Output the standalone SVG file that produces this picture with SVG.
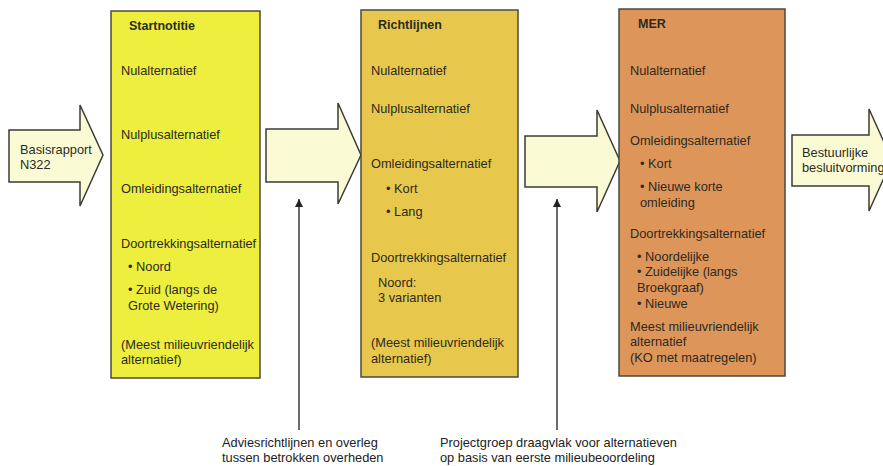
<svg xmlns="http://www.w3.org/2000/svg" width="883" height="466" viewBox="0 0 883 466">
<style>
text{font-family:"Liberation Sans",Arial,sans-serif;font-size:12.8px;fill:#2b2b22}
.t{font-weight:bold;font-size:12.5px}
.box{stroke:#4a4a40;stroke-width:1.5}
.arr{fill:#fafbd4;stroke:#3c3c36;stroke-width:1.5;stroke-linejoin:miter}
.vl{stroke:#3a3a3a;stroke-width:1.5;fill:none}
.lbl{font-size:12.8px;fill:#222}
</style>
<defs>
<marker id="ah" viewBox="0 0 10 10" refX="10" refY="5" markerWidth="8" markerHeight="8" markerUnits="userSpaceOnUse" orient="auto">
<path d="M0,0 L10,5 L0,10 z" fill="#222"/>
</marker>
</defs>
<rect width="883" height="466" fill="#ffffff"/>

<g id="connectors">
<g id="arrow-basis">
<polygon class="arr" points="9,130 80,130 80,105 103,155 80,206 80,182 9,182"/>
<text x="20" y="154">Basisrapport</text>
<text x="20" y="169">N322</text>
</g>
<polygon id="arrow-2" class="arr" points="266,129 338,129 338,103 361,155 338,204 338,182 266,182"/>
<polygon id="arrow-3" class="arr" points="525,136 597,136 597,110 620,161 597,212 597,187 525,187"/>
<g id="arrow-besluit">
<polygon class="arr" points="792,135 869,135 869,109 892,160 869,211 869,186 792,186"/>
<text x="802" y="157">Bestuurlijke</text>
<text x="802" y="172">besluitvorming</text>
</g>
<line class="vl" x1="299" y1="430" x2="299" y2="199" marker-end="url(#ah)"/>
<line class="vl" x1="557" y1="430" x2="557" y2="199" marker-end="url(#ah)"/>
</g>

<g id="startnotitie">
<rect class="box" x="111" y="11" width="149" height="367" fill="#eeee3e"/>
<text class="t" x="129" y="30">Startnotitie</text>
<text x="121" y="75">Nulalternatief</text>
<text x="121" y="139">Nulplusalternatief</text>
<text x="121" y="193">Omleidingsalternatief</text>
<text x="121" y="248">Doortrekkingsalternatief</text>
<text x="128" y="271">• Noord</text>
<text x="128" y="294">• Zuid (langs de</text>
<text x="128" y="310">Grote Wetering)</text>
<text x="121" y="349">(Meest milieuvriendelijk</text>
<text x="121" y="364">alternatief)</text>
</g>

<g id="richtlijnen">
<rect class="box" x="361" y="10" width="157" height="367" fill="#e8c84c"/>
<text class="t" x="378" y="29">Richtlijnen</text>
<text x="371" y="75">Nulalternatief</text>
<text x="371" y="113">Nulplusalternatief</text>
<text x="371" y="168">Omleidingsalternatief</text>
<text x="386" y="193">• Kort</text>
<text x="386" y="216">• Lang</text>
<text x="371" y="262">Doortrekkingsalternatief</text>
<text x="378" y="287">Noord:</text>
<text x="378" y="302">3 varianten</text>
<text x="371" y="347">(Meest milieuvriendelijk</text>
<text x="371" y="363">alternatief)</text>
</g>

<g id="mer">
<rect class="box" x="619" y="9" width="166" height="367" fill="#de955a"/>
<text class="t" x="638" y="28">MER</text>
<text x="630" y="75">Nulalternatief</text>
<text x="630" y="113">Nulplusalternatief</text>
<text x="630" y="145">Omleidingsalternatief</text>
<text x="640" y="168">• Kort</text>
<text x="640" y="191">• Nieuwe korte</text>
<text x="640" y="207">omleiding</text>
<text x="630" y="238">Doortrekkingsalternatief</text>
<text x="637" y="261">• Noordelijke</text>
<text x="637" y="276">• Zuidelijke (langs</text>
<text x="637" y="292">Broekgraaf)</text>
<text x="637" y="308">• Nieuwe</text>
<text x="630" y="331">Meest milieuvriendelijk</text>
<text x="630" y="346">alternatief</text>
<text x="630" y="362">(KO met maatregelen)</text>
</g>

<g id="label-advies">
<text class="lbl" x="222" y="447">Adviesrichtlijnen en overleg</text>
<text class="lbl" x="222" y="462">tussen betrokken overheden</text>
</g>
<g id="label-projectgroep">
<text class="lbl" x="440" y="447">Projectgroep draagvlak voor alternatieven</text>
<text class="lbl" x="440" y="462">op basis van eerste milieubeoordeling</text>
</g>
</svg>
